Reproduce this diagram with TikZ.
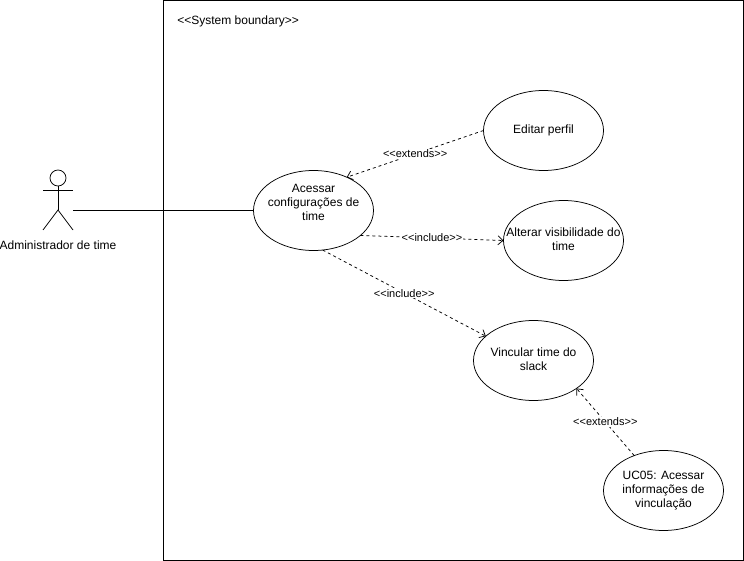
\documentclass[tikz,border=0pt]{standalone}
\usepackage{fontspec}
\setmainfont{Liberation Sans}
\usetikzlibrary{shapes.geometric,arrows.meta}
% centred block of lines that takes no room, so an ellipse keeps its set size
\newsavebox{\ucbox}
\newcommand{\uctext}[1]{\sbox{\ucbox}{\begin{tabular}{@{}c@{}}#1\end{tabular}}%
  \smash{\makebox[0pt]{\raisebox{\dimexpr(\dp\ucbox-\ht\ucbox)/2\relax}{\usebox{\ucbox}}}}}
\tikzset{
  usecase/.style={draw,ellipse,minimum width=120bp,minimum height=80bp,inner sep=0pt,outer sep=0pt,
    font=\fontsize{12bp}{14bp}\selectfont},
  dep/.style={draw,dash pattern=on 3bp off 3bp,-{Straight Barb[length=5bp,width=9bp]}},
  deplabel/.style={fill=white,inner sep=1bp,font=\fontsize{11bp}{13bp}\selectfont},
  plain/.style={font=\fontsize{12bp}{14bp}\selectfont,inner sep=0pt},
  lines/.style={line width=0.75bp}
}
\begin{document}
\begin{tikzpicture}[x=1bp,y=-1bp,lines]
\useasboundingbox (0,0) rectangle (744,561);
% system boundary
\draw (163.5,0.5) rectangle (743.5,560.5);
\node[plain,anchor=west] (boundary) at (177,21) {<{}<System boundary>{}>};
% actor
\coordinate (head) at (58,178);
\draw (head) circle (8);
\draw (58,186) -- (58,210) coordinate (hip);
\draw (43,190) -- (73,190);
\draw (43,230) -- (hip) -- (73,230);
\node[plain] (adminlabel) at (58,245) {Administrador de time};
\coordinate (adminhand) at (73,210.5);
% use cases
\node[usecase] (conf) at (313.5,210.5) {\uctext{Acessar\\configurações de\\time\\\mbox{}}};
\node[usecase] (edit) at (543.5,130.5) {\uctext{Editar perfil}};
\node[usecase] (alter) at (563.5,240.5) {\uctext{Alterar visibilidade do\\time}};
\node[usecase] (vinc) at (533.5,360.5) {\uctext{Vincular time do\\slack}};
\node[usecase] (uc) at (663.5,490.5) {\uctext{UC05: Acessar\\informações de\\vinculação}};
% relations
\draw (adminhand) -- (conf.west);
\draw[dep] (edit.west) -- node[deplabel,pos=0.5] (l1) {<{}<extends>{}>} (conf.45);
\draw[dep] (conf.-28) -- node[deplabel,pos=0.5] (l2) {<{}<include>{}>} (alter.west);
\draw[dep] (conf.-77) -- node[deplabel,pos=0.5] (l3) {<{}<include>{}>} (vinc.153);
\draw[dep] (uc.130) -- node[deplabel,pos=0.5] (l4) {<{}<extends>{}>} (vinc.-33);
\end{tikzpicture}
\end{document}
